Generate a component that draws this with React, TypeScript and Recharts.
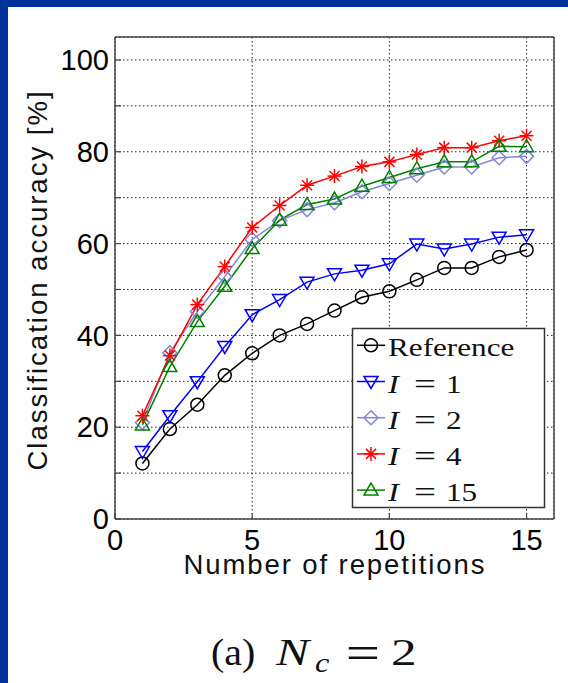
import React from 'react';
import { LineChart, Line, XAxis, YAxis, CartesianGrid, Legend } from 'recharts';

// accuracy (%) per number of repetitions
const repetitions = [1, 2, 3, 4, 5, 6, 7, 8, 9, 10, 11, 12, 13, 14, 15];
const referenceAcc = [12.1, 19.6, 24.9, 31.3, 36.1, 40.0, 42.5, 45.4, 48.3, 49.6, 52.1, 54.7, 54.7, 57.1, 58.6];
const iter1Acc = [14.7, 22.5, 29.9, 37.6, 44.5, 47.8, 51.6, 53.4, 54.2, 55.6, 59.9, 58.8, 59.9, 61.4, 61.9];
const iter2Acc = [21.0, 36.2, 45.2, 52.8, 60.9, 65.0, 67.4, 68.9, 71.3, 73.1, 74.9, 76.7, 76.7, 78.7, 79.0];
const iter4Acc = [22.5, 35.6, 46.7, 55.0, 63.5, 68.3, 72.7, 74.7, 76.8, 77.8, 79.4, 80.9, 80.9, 82.4, 83.5];
const iter15Acc = [20.5, 33.2, 43.0, 50.7, 58.9, 65.1, 68.5, 69.7, 72.5, 74.4, 76.3, 77.8, 77.8, 81.2, 81.1];

const xTicks = [0, 5, 10, 15];
const yTicks = [0, 10, 20, 30, 40, 50, 60, 70, 80, 90, 100];

type Shape = 'circle' | 'triangleDown' | 'diamond' | 'asterisk' | 'triangleUp';

const series: { key: string; label: string; iter: string | null; color: string; shape: Shape; values: number[] }[] = [
  { key: 'ref', label: 'Reference', iter: null, color: '#000000', shape: 'circle', values: referenceAcc },
  { key: 'i1', label: 'I = 1', iter: '1', color: '#0000ff', shape: 'triangleDown', values: iter1Acc },
  { key: 'i2', label: 'I = 2', iter: '2', color: '#8585d6', shape: 'diamond', values: iter2Acc },
  { key: 'i4', label: 'I = 4', iter: '4', color: '#ff0000', shape: 'asterisk', values: iter4Acc },
  { key: 'i15', label: 'I = 15', iter: '15', color: '#008000', shape: 'triangleUp', values: iter15Acc },
];

const data = repetitions.map((rep, i) => {
  const row: Record<string, number> = { rep };
  series.forEach(s => { row[s.key] = s.values[i]; });
  return row;
});

const SANS = '"Liberation Sans", Arial, Helvetica, sans-serif';
const SERIF = '"Liberation Serif", "Times New Roman", serif';
const AXIS = '#444';

const Marker = ({ shape, cx, cy, color }: { shape: Shape; cx: number; cy: number; color: string }) => {
  const st = { fill: 'none', stroke: color, strokeWidth: 1.5 };
  switch (shape) {
    case 'circle':
      return <circle cx={cx} cy={cy} r={6.5} {...st} />;
    case 'triangleDown':
      return <polygon points={`${cx - 7},${cy - 5} ${cx + 7},${cy - 5} ${cx},${cy + 7}`} {...st} />;
    case 'triangleUp':
      return <polygon points={`${cx - 7},${cy + 5} ${cx + 7},${cy + 5} ${cx},${cy - 7}`} {...st} />;
    case 'diamond':
      return <polygon points={`${cx},${cy - 7} ${cx + 7},${cy} ${cx},${cy + 7} ${cx - 7},${cy}`} {...st} />;
    default:
      return (
        <g stroke={color} strokeWidth={1.5}>
          <line x1={cx - 7} y1={cy} x2={cx + 7} y2={cy} />
          <line x1={cx} y1={cy - 7} x2={cx} y2={cy + 7} />
          <line x1={cx - 5} y1={cy - 5} x2={cx + 5} y2={cy + 5} />
          <line x1={cx - 5} y1={cy + 5} x2={cx + 5} y2={cy - 5} />
        </g>
      );
  }
};

// text placed at (x, y) and stretched around that point
const Wide = ({ x, y, sx = 1, sy = 1, children, ...rest }: any) => (
  <text transform={`translate(${x} ${y}) scale(${sx} ${sy})`} {...rest}>
    {children}
  </text>
);

const LegendBox = () => (
  <svg width={198} height={186} style={{ display: 'block' }}>
    <rect x={1.5} y={1.5} width={192} height={179} fill="#fff" stroke="#333" strokeWidth={1.5} />
    {series.map((s, i) => {
      const cy = 18.3 + i * 36.2;
      const base = cy + 11;
      return (
        <g key={s.key}>
          <line x1={6} y1={cy} x2={34} y2={cy} stroke={s.color} strokeWidth={1.5} />
          <Marker shape={s.shape} cx={20} cy={cy} color={s.color} />
          {s.iter === null ? (
            <Wide x={37} y={base} sx={1.2} fontFamily={SERIF} fontSize={26} fill="#111">
              {s.label}
            </Wide>
          ) : (
            <g fontFamily={SERIF} fontSize={26} fill="#111">
              <Wide x={37} y={base} sx={1.25} fontStyle="italic">I</Wide>
              <Wide x={74} y={base + 1} sx={1.5} sy={1.15} textAnchor="middle">=</Wide>
              <Wide x={95} y={base} sx={1.2}>{s.iter}</Wide>
            </g>
          )}
        </g>
      );
    })}
  </svg>
);

const YTitle = () => (
  <text
    x={47}
    y={280}
    transform="rotate(-90 47 280)"
    textAnchor="middle"
    fontFamily={SANS}
    fontSize={27.5}
    letterSpacing={2}
    fill="#111"
  >
    Classification accuracy [%]
  </text>
);

const BottomTitles = () => (
  <g fill="#111">
    <text x={335} y={574} textAnchor="middle" fontFamily={SANS} fontSize={27.5} letterSpacing={1.9}>
      Number of repetitions
    </text>
    <g fontFamily={SERIF} fontSize={38}>
      <Wide x={211} y={665} sx={1.05}>(a)</Wide>
      <Wide x={276} y={665} sx={1.3} fontStyle="italic">N</Wide>
      <Wide x={315} y={672} sx={1.2} fontSize={27} fontStyle="italic">c</Wide>
      <Wide x={363} y={669} sx={1.6} sy={1.25} textAnchor="middle">=</Wide>
      <Wide x={391} y={665} sx={1.35}>2</Wide>
    </g>
  </g>
);

const App: React.FC = () => {
  const tickStyle = { fontSize: 29, fill: '#000', fontFamily: SANS };
  return (
    <div style={{ position: 'absolute', left: 0, top: 0, width: 568, height: 683, background: '#fff', overflow: 'hidden' }}>
      <LineChart width={568} height={683} data={data} margin={{ top: 33, right: 10, left: 55, bottom: 124 }}>
        <CartesianGrid stroke="#222" strokeDasharray="1.5 2.5" strokeWidth={1} />
        <XAxis
          dataKey="rep"
          type="number"
          domain={[0, 16]}
          ticks={xTicks}
          interval={0}
          height={40}
          tick={tickStyle}
          tickSize={-6}
          tickMargin={16}
          axisLine={{ stroke: AXIS, strokeWidth: 1.5 }}
          tickLine={{ stroke: AXIS, strokeWidth: 1.2 }}
          label={BottomTitles}
        />
        <XAxis
          xAxisId="top"
          orientation="top"
          type="number"
          domain={[0, 16]}
          ticks={xTicks}
          height={4}
          tick={false}
          tickSize={-6}
          axisLine={{ stroke: AXIS, strokeWidth: 1.5 }}
          tickLine={{ stroke: AXIS, strokeWidth: 1.2 }}
        />
        <YAxis
          type="number"
          domain={[0, 105]}
          ticks={yTicks}
          interval={0}
          width={60}
          tick={tickStyle}
          tickFormatter={(v: number) => (v % 20 === 0 ? String(v) : '')}
          tickSize={-6}
          tickMargin={12}
          axisLine={{ stroke: AXIS, strokeWidth: 1.5 }}
          tickLine={{ stroke: AXIS, strokeWidth: 1.2 }}
          label={YTitle}
        />
        <YAxis
          yAxisId="right"
          orientation="right"
          type="number"
          domain={[0, 105]}
          ticks={yTicks}
          width={4}
          tick={false}
          tickSize={-6}
          axisLine={{ stroke: AXIS, strokeWidth: 1.5 }}
          tickLine={{ stroke: AXIS, strokeWidth: 1.2 }}
        />
        {series.map(s => (
          <Line
            key={s.key}
            dataKey={s.key}
            name={s.label}
            type="linear"
            stroke={s.color}
            strokeWidth={1.5}
            isAnimationActive={false}
            activeDot={false}
            dot={(p: any) => <Marker key={`${s.key}-${p.index}`} shape={s.shape} cx={p.cx} cy={p.cy} color={s.color} />}
          />
        ))}
        <Legend
          layout="horizontal"
          verticalAlign="middle"
          align="center"
          content={LegendBox}
          wrapperStyle={{ left: 351, top: 327, width: 198, height: 186 }}
        />
      </LineChart>
      <div style={{ position: 'absolute', left: 0, top: 0, width: 8, height: 683, background: '#003399' }} />
      <div style={{ position: 'absolute', left: 0, top: 0, width: 568, height: 7, background: '#003399' }} />
    </div>
  );
};

export default App;
